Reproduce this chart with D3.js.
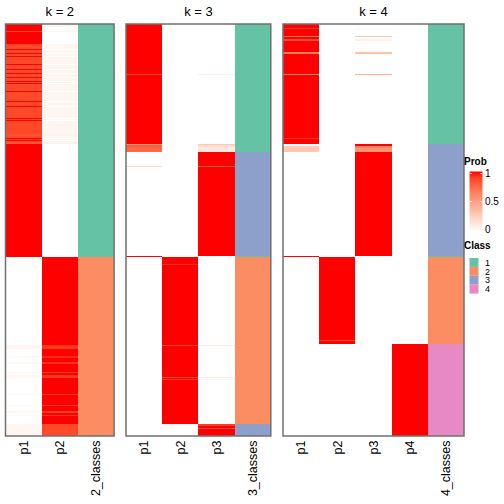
<!DOCTYPE html>
<html><head><meta charset="utf-8">
<script src="https://cdn.jsdelivr.net/npm/d3@7"></script>
<style>body{margin:0;background:#fff}svg{display:block}text{font-family:"Liberation Sans",Arial,sans-serif}</style>
</head><body><svg id="c" width="504" height="504"></svg>
<script>
// Run-length rows: [sampleCount, p1, p2, ..., class]
const titles = ["k = 2", "k = 3", "k = 4"];
const cols2 = ["p1", "p2", "2_classes"];
const cols3 = ["p1", "p2", "p3", "3_classes"];
const cols4 = ["p1", "p2", "p3", "p4", "4_classes"];
const rowsK2 = [
 [3,1,0.04,1],[4,1,0,1],[1,0.9,0.06,1],[12,1,0,1],[5,0.87,0.05,1],[1,1,0,1],[3,0.87,0.05,1],[1,1,0.02,1],
 [2,0.87,0.05,1],[1,1,0,1],[7,0.87,0.05,1],[1,1,0,1],[4,0.87,0.05,1],[1,1,0,1],[3,0.87,0.05,1],[1,1,0,1],
 [3,0.87,0.05,1],[1,1,0,1],[3,0.87,0.05,1],[1,1,0,1],[1,0.87,0.05,1],[1,1,0,1],[7,0.87,0.05,1],[1,1,0,1],
 [9,0.87,0.05,1],[1,1,0,1],[4,0.87,0.05,1],[1,1,0,1],[11,0.87,0.05,1],[1,1,0,1],[1,0.87,0.05,1],[1,1,0,1],
 [13,0.87,0.05,1],[2,0.84,0.07,1],[2,0.87,0.05,1],[1,1,0,1],[1,0.87,0.05,1],[1,1,0,1],[1,0.87,0.05,1],
 [2,0.82,0.08,1],[113,1,0,1],
 [88,0,1,2],[4,0.05,0.92,2],[7,0,1,2],[2,0.03,0.95,2],[4,0,1,2],[2,0.04,0.93,2],[8,0,1,2],[1,0.05,0.9,2],
 [2,0,1,2],[3,0.04,0.92,2],[16,0,1,2],[1,0.04,0.9,2],[10,0,1,2],[1,0.04,0.9,2],[5,0,1,2],[2,0.05,0.9,2],
 [2,0,1,2],[1,0.04,0.92,2],[8,0,1,2],[12,0.05,0.87,2]
];
const rowsK3 = [
 [50,1,0,0,1],[1,0.88,0,0.08,1],[69,1,0,0,1],[1,0.55,0,0.3,1],[2,0.8,0,0.18,1],[5,0.75,0,0.12,1],
 [14,0,0,1,3],[1,0.2,0,0.82,3],[89,0,0,1,3],[1,1,0,0,1],
 [7,0,1,0,2],[1,0.05,0.95,0,2],[80,0,1,0,2],[1,0,0.85,0.1,2],[31,0,1,0,2],[1,0,0.85,0.1,2],[1,0,1,0,2],
 [1,0,0.88,0.06,2],[44,0,1,0,2],
 [2,0,0.03,0.9,3],[2,0,0,1,3],[1,0,0,0.88,3],[7,0,0,1,3]
];
const rowsK4 = [
 [4,1,0,0,0,1],[1,0.92,0,0.05,0,1],[7,1,0,0,0,1],[1,0.7,0,0.3,0,1],[2,1,0,0,0,1],[2,0.85,0,0.08,0,1],
 [11,1,0,0,0,1],[2,0.65,0,0.33,0,1],[20,1,0,0,0,1],[1,0.6,0,0.42,0,1],[63,1,0,0,0,1],[1,0.92,0,0.02,0,1],
 [5,1,0,0,0,1],
 [2,0,0,1,0,3],[2,0.28,0,0.65,0,3],[4,0.3,0,0.55,0,3],[104,0,0,1,0,3],[1,1,0,0,0,1],
 [83,0,1,0,0,2],[1,0,0.88,0,0.05,2],[3,0,1,0,0,2],
 [92,0,0,0,1,4]
];
const classNames = ["1", "2", "3", "4"];
const classColors = ["#66C2A5", "#FC8D62", "#8DA0CB", "#E78AC3"];
const probTicks = [0, 0.5, 1];

const svg = d3.select("#c");
const prob = d3.scaleLinear().domain([0, 1]).range(["#FFFFFF", "#FF0000"]).interpolate(d3.interpolateLab);
const classColor = d3.scaleOrdinal().domain(classNames).range(classColors);
const yTop = 24, yBottom = 436, cw = 36.2;
const panels = [
  {title: titles[0], cols: cols2, rows: rowsK2, x0: 5.5},
  {title: titles[1], cols: cols3, rows: rowsK3, x0: 126},
  {title: titles[2], cols: cols4, rows: rowsK4, x0: 283}
];
panels.forEach(p => {
  const n = d3.sum(p.rows, r => r[0]);
  const y = d3.scaleLinear().domain([0, n]).range([yTop, yBottom]);
  const x = d3.scaleBand().domain(p.cols).range([p.x0, p.x0 + cw * p.cols.length]);
  let start = 0;
  const cells = [];
  p.rows.forEach(r => {
    p.cols.forEach((c, j) => {
      const isClass = j === p.cols.length - 1;
      cells.push({s: start, e: start + r[0], col: c,
        fill: isClass ? classColor(String(r[r.length - 1])) : prob(r[j + 1])});
    });
    start += r[0];
  });
  const g = svg.append("g");
  g.selectAll("rect.cell").data(cells).join("rect").attr("class", "cell")
    .attr("x", d => x(d.col)).attr("width", x.bandwidth())
    .attr("y", d => y(d.s)).attr("height", d => y(d.e) - y(d.s) + 0.3)
    .attr("fill", d => d.fill).attr("shape-rendering", "crispEdges");
  g.append("rect").attr("x", x.range()[0]).attr("y", yTop)
    .attr("width", x.range()[1] - x.range()[0]).attr("height", yBottom - yTop)
    .attr("fill", "none").attr("stroke", "#707070").attr("stroke-width", 1.5);
  g.append("text").attr("x", (x.range()[0] + x.range()[1]) / 2).attr("y", 16)
    .attr("text-anchor", "middle").attr("font-size", 13).text(p.title);
  p.cols.forEach(c => {
    const cx = x(c) + x.bandwidth() / 2;
    g.append("text").attr("transform", `translate(${cx},440.5) rotate(-90)`)
      .attr("text-anchor", "end").attr("dy", "0.35em").attr("font-size", 12.5).text(c);
  });
});

// Legend
const lg = svg.append("g");
lg.append("text").attr("x", 464).attr("y", 165).attr("font-size", 10).attr("font-weight", "bold").text("Prob");
const defs = svg.append("defs");
const grad = defs.append("linearGradient").attr("id", "pg").attr("x1", 0).attr("y1", 1).attr("x2", 0).attr("y2", 0);
d3.range(0, 1.0001, 0.1).forEach(t => grad.append("stop").attr("offset", t).attr("stop-color", prob(t)));
const ly = d3.scaleLinear().domain([0, 1]).range([229.5, 173.5]);
lg.append("rect").attr("x", 469.5).attr("y", 171.5).attr("width", 13).attr("height", 60).attr("fill", "url(#pg)");
probTicks.forEach(t => {
  lg.append("line").attr("x1", 469.5).attr("x2", 472).attr("y1", ly(t)).attr("y2", ly(t)).attr("stroke", "#fff").attr("stroke-width", 0.8);
  lg.append("line").attr("x1", 480).attr("x2", 482.5).attr("y1", ly(t)).attr("y2", ly(t)).attr("stroke", "#fff").attr("stroke-width", 0.8);
  lg.append("text").attr("x", 485).attr("y", ly(t)).attr("dy", "0.35em").attr("font-size", 10).text(t === 0.5 ? "0.5" : String(t));
});
lg.append("text").attr("x", 464).attr("y", 249).attr("font-size", 10).attr("font-weight", "bold").text("Class");
classNames.forEach((c, i) => {
  const yy = 258 + i * 8.9;
  lg.append("rect").attr("x", 469.5).attr("y", yy).attr("width", 9).attr("height", 8.9).attr("fill", classColor(c));
  lg.append("text").attr("x", 485).attr("y", yy + 4.45).attr("dy", "0.35em").attr("font-size", 9).text(c);
});
</script></body></html>
